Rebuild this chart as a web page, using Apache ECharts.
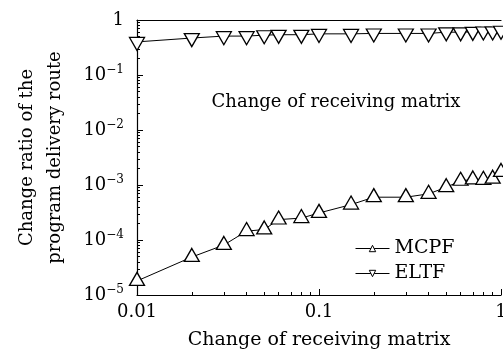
<!DOCTYPE html>
<html lang="en">
<head>
  <meta charset="UTF-8">
  <title>Change ratio vs receiving matrix</title>
</head>
<body>
<div id="chart"></div>
<style>
  html, body {
    margin: 0;
    width: 100%;
    height: 100%;
    background: #fff;
  }
  #chart {
    width: 503px;
    height: 353px;
  }
</style>
<script src="https://cdn.jsdelivr.net/npm/echarts@6/dist/echarts.min.js"></script>
<script>
  // change of receiving matrix
  const xVals = [0.01, 0.02, 0.03, 0.04, 0.05, 0.06, 0.08, 0.1, 0.15, 0.2, 0.3, 0.4, 0.5, 0.6, 0.7, 0.8, 0.9, 1.0];
  const mcpf = [1.8e-5, 4.9e-5, 8.1e-5, 1.45e-4, 1.55e-4, 2.35e-4, 2.5e-4, 3.1e-4, 4.4e-4, 6.0e-4, 6.0e-4, 6.9e-4, 9.1e-4, 1.19e-3, 1.26e-3, 1.24e-3, 1.3e-3, 1.72e-3];
  const eltf = [0.40, 0.47, 0.51, 0.51, 0.53, 0.54, 0.54, 0.56, 0.56, 0.57, 0.57, 0.57, 0.60, 0.60, 0.61, 0.62, 0.62, 0.64];
  const seriesNames = ['MCPF', 'ELTF'];

  const font = 'DejaVu Serif';

  // minor ticks at 2..9 of each decade, in exponent space
  function minorTicks(lo, hi) {
    const out = [];
    for (let n = lo; n < hi; n++) {
      for (let k = 2; k <= 9; k++) out.push(n + Math.log10(k));
    }
    return out;
  }

  function pairs(ys) {
    return xVals.map((x, i) => [x, ys[i]]);
  }

  const chart = echarts.init(document.getElementById('chart'));
  chart.setOption({
    animation: false,
    grid: {left: 137, top: 20, width: 364, height: 275, outerBoundsMode: 'none'},
    textStyle: {fontFamily: font, color: '#000'},
    graphic: [{
      type: 'text',
      x: 336, y: 102,
      style: {
        text: 'Change of receiving matrix', font: '18px "DejaVu Serif"', fill: '#000',
        align: 'center', verticalAlign: 'middle'
      }
    }],
    legend: {
      orient: 'vertical',
      left: 350, top: 234,
      itemWidth: 34, itemHeight: 8,
      itemGap: 6,
      itemStyle: {borderWidth: 1},
      lineStyle: {width: 1},
      textStyle: {fontFamily: font, fontSize: 19, color: '#000'},
      data: seriesNames
    },
    xAxis: [{
      type: 'log', logBase: 10, min: 0.01, max: 1,
      position: 'bottom',
      name: 'Change of receiving matrix',
      nameLocation: 'middle', nameGap: 36,
      nameTextStyle: {fontFamily: font, fontSize: 19, color: '#000'},
      axisLine: {onZero: false, lineStyle: {color: '#000', width: 1.2}},
      axisTick: {inside: true, length: 6, lineStyle: {color: '#000'}},
      axisLabel: {fontFamily: font, fontSize: 18, color: '#000', margin: 8},
      splitLine: {show: false}
    }, {
      type: 'value', min: -2, max: 0,
      position: 'bottom',
      axisLine: {show: false, onZero: false},
      axisLabel: {show: false},
      splitLine: {show: false},
      axisTick: {inside: true, length: 3, customValues: minorTicks(-2, 0), lineStyle: {color: '#000'}}
    }, {
      type: 'value', min: -2, max: 0,
      position: 'top',
      axisLine: {onZero: false, lineStyle: {color: '#000', width: 1.2}},
      axisLabel: {show: false},
      axisTick: {show: false},
      splitLine: {show: false}
    }],
    yAxis: [{
      type: 'log', logBase: 10, min: 1e-5, max: 1,
      position: 'left',
      name: 'Change ratio of the\nprogram delivery route',
      nameLocation: 'middle', nameRotate: 90, nameGap: 68,
      nameTextStyle: {fontFamily: font, fontSize: 18, color: '#000', lineHeight: 28, align: 'center'},
      axisLine: {onZero: false, lineStyle: {color: '#000', width: 1.2}},
      axisTick: {inside: true, length: 6, lineStyle: {color: '#000'}},
      axisLabel: {
        fontFamily: font, fontSize: 18, color: '#000', margin: 13,
        formatter: function (v) {
          const e = Math.round(Math.log10(v));
          if (e === 0) return '1';
          return '10{s|\u2212' + (-e) + '}';
        },
        rich: {s: {fontFamily: font, fontSize: 12, verticalAlign: 'top', padding: [0, 0, 10, 0]}}
      },
      splitLine: {show: false}
    }, {
      type: 'value', min: -5, max: 0,
      position: 'left',
      axisLine: {show: false, onZero: false},
      axisLabel: {show: false},
      splitLine: {show: false},
      axisTick: {inside: true, length: 3, customValues: minorTicks(-5, 0), lineStyle: {color: '#000'}}
    }],
    series: [{
      name: 'MCPF',
      type: 'line',
      data: pairs(mcpf),
      symbol: 'triangle',
      symbolSize: [15, 13],
      symbolOffset: [0, '-16%'],
      showAllSymbol: true,
      lineStyle: {color: '#000', width: 1},
      itemStyle: {color: '#fff', borderColor: '#000', borderWidth: 1.3}
    }, {
      name: 'ELTF',
      type: 'line',
      data: pairs(eltf),
      symbol: 'triangle',
      symbolRotate: 180,
      symbolSize: [15, 13],
      symbolOffset: [0, '16%'],
      showAllSymbol: true,
      lineStyle: {color: '#000', width: 1},
      itemStyle: {color: '#fff', borderColor: '#000', borderWidth: 1.3}
    }]
  });
</script>
</body>
</html>
